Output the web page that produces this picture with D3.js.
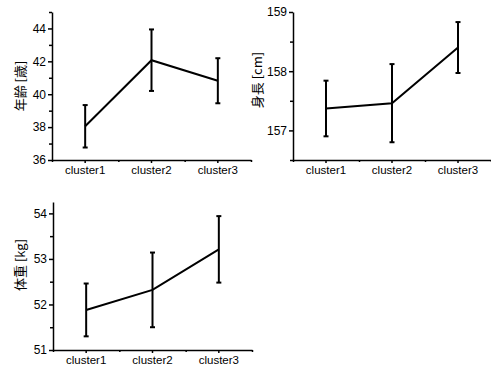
<!DOCTYPE html>
<html>
<head>
<meta charset="utf-8">
<script src="https://cdn.jsdelivr.net/npm/d3@7"></script>
<style>
  body { margin: 0; background: #fff; }
  .axis path, .axis line { stroke: #000; stroke-width: 1.5; }
  .axis text { font-family: "Liberation Sans", Arial, sans-serif; font-size: 12px; fill: #000; }
  .ylabel { font-family: "Noto Sans CJK JP", sans-serif; font-size: 13px; fill: #000; }
</style>
</head>
<body>
<div id="chart"></div>
<script>
// data (mean and half error bar)
var categories = ["cluster1", "cluster2", "cluster3"];

var ageMean = [38.05, 42.07, 40.82];
var ageErr = [1.29, 1.87, 1.37];
var ageTicks = [36, 38, 40, 42, 44];
var ageMinor = [37, 39, 41, 43, 45];

var heightMean = [157.37, 157.46, 158.40];
var heightErr = [0.47, 0.66, 0.43];
var heightTicks = [157, 158, 159];
var heightMinor = [156.5, 157.5, 158.5];

var weightMean = [51.88, 52.32, 53.21];
var weightErr = [0.58, 0.82, 0.73];
var weightTicks = [51, 52, 53, 54];
var weightMinor = [51.5, 52.5, 53.5];

var svg = d3.select("#chart").append("svg")
	.attr("width", 491)
	.attr("height", 370);

var panels = [
	{label: "年齢 [歳]", mean: ageMean, err: ageErr, domain: [36, 45], ticks: ageTicks, minor: ageMinor,
	 left: 52, top: 12, w: 199, h: 148, labelX: 20, labelY: 86},
	{label: "身長 [cm]", mean: heightMean, err: heightErr, domain: [156.5, 159], ticks: heightTicks, minor: heightMinor,
	 left: 293, top: 12, w: 198, h: 148, labelX: 257, labelY: 80},
	{label: "体重 [kg]", mean: weightMean, err: weightErr, domain: [51, 54.25], ticks: weightTicks, minor: weightMinor,
	 left: 53, top: 202, w: 199, h: 148, labelX: 20, labelY: 265}
];

panels.forEach(function(p) {
	var g = svg.append("g")
		.attr("transform", "translate(" + p.left + "," + p.top + ")");

	var x = d3.scaleBand().domain(categories).range([0, p.w]);
	var xEdge = d3.scaleLinear().domain([0, categories.length]).range([0, p.w]);
	var y = d3.scaleLinear().domain(p.domain).range([p.h, 0]);

	// minor ticks first so the main axis line sits on top
	g.append("g")
		.attr("class", "axis")
		.call(d3.axisLeft(y).tickValues(p.minor).tickSize(3).tickFormat(""))
		.select(".domain").remove();
	g.append("g")
		.attr("class", "axis")
		.attr("transform", "translate(0," + p.h + ")")
		.call(d3.axisBottom(xEdge).tickValues(d3.range(categories.length + 1)).tickSize(2).tickFormat(""))
		.select(".domain").remove();

	g.append("g")
		.attr("class", "axis")
		.call(d3.axisLeft(y).tickValues(p.ticks).tickFormat(d3.format("d"))
			.tickSize(4).tickSizeOuter(0).tickPadding(2));

	var xa = g.append("g")
		.attr("class", "axis")
		.attr("transform", "translate(0," + p.h + ")")
		.call(d3.axisBottom(x).tickSize(3).tickSizeOuter(0).tickPadding(3));
	xa.selectAll("text").style("font-size", "11.5px");

	// y label (rotated, centred on labelX/labelY)
	g.append("text")
		.attr("class", "ylabel")
		.attr("text-anchor", "middle")
		.attr("dy", "0.35em")
		.attr("transform", "translate(" + (p.labelX - p.left) + "," + (p.labelY - p.top) + ") rotate(-90)")
		.text(p.label);

	var cx = function(i) { return x(categories[i]) + x.bandwidth() / 2; };

	// mean line
	var line = d3.line()
		.x(function(d, i) { return cx(i); })
		.y(function(d) { return y(d); });
	g.append("path")
		.datum(p.mean)
		.attr("d", line)
		.attr("fill", "none")
		.attr("stroke", "#000")
		.attr("stroke-width", 2);

	// error bars
	var bars = g.selectAll(".err")
		.data(p.mean)
		.enter()
		.append("g")
		.attr("class", "err");
	bars.append("line")
		.attr("x1", function(d, i) { return cx(i); })
		.attr("x2", function(d, i) { return cx(i); })
		.attr("y1", function(d, i) { return y(d + p.err[i]); })
		.attr("y2", function(d, i) { return y(d - p.err[i]); })
		.attr("stroke", "#000")
		.attr("stroke-width", 2);
	[1, -1].forEach(function(sgn) {
		bars.append("line")
			.attr("x1", function(d, i) { return cx(i) - 2.5; })
			.attr("x2", function(d, i) { return cx(i) + 2.5; })
			.attr("y1", function(d, i) { return y(d + sgn * p.err[i]); })
			.attr("y2", function(d, i) { return y(d + sgn * p.err[i]); })
			.attr("stroke", "#000")
			.attr("stroke-width", 2);
	});
});
</script>
</body>
</html>
